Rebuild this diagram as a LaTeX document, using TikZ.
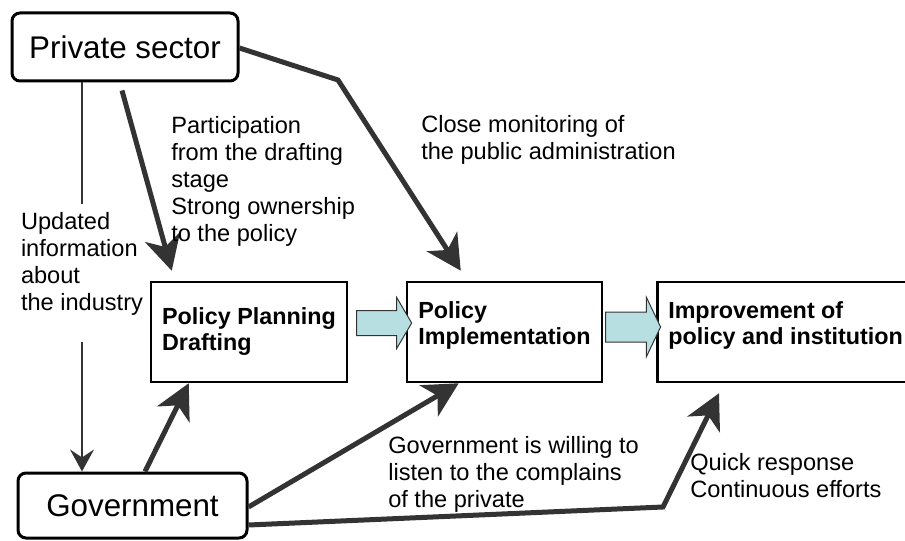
\documentclass[tikz,border=0pt]{standalone}
\usepackage{fontspec}
\setmainfont{Liberation Sans}
\usetikzlibrary{arrows.meta}
\usetikzlibrary{shapes.arrows}
\definecolor{arrowgrey}{HTML}{333333}
\definecolor{flowcyan}{HTML}{B7DFE2}
\newlength{\basisb}
\setlength{\basisb}{7.5pt}
\newcommand{\notefont}{\fontsize{17.7}{20.25}\selectfont}

\begin{document}
\begin{tikzpicture}[
    actor/.style={draw=black, line width=0.3\basisb, rounded corners=0.8\basisb, font=\fontsize{23.5}{28}\selectfont},
    stage/.style={draw=black, line width=0.25\basisb, minimum height=10\basisb, align=left, inner xsep=1.1\basisb, font=\fontsize{17.5}{19.5}\selectfont\bfseries},
    note/.style={anchor=north west, inner sep=0pt, align=left, font=\notefont},
    flow/.style={->, >={Stealth[length=26pt, width=27pt, inset=7.5pt]}, line width=0.5\basisb, color=arrowgrey},
    thinflow/.style={->, >={Stealth[length=16.5pt, width=18pt, inset=6pt]}, line width=0.2\basisb, color=arrowgrey},
    blockarrow/.style={single arrow, draw=arrowgrey, fill=flowcyan, line width=0.1\basisb, inner xsep=0pt, minimum height=5.5\basisb}
]
    \useasboundingbox (0,0) rectangle (90.5\basisb,54\basisb);
    \clip (0,0) rectangle (90.5\basisb,54\basisb);

    % actors
    \draw (12.5\basisb,49.3\basisb) 
		node[actor, minimum width=22.6\basisb, minimum height=6.8\basisb] 
			(Private) {Private sector};
    \draw (13.25\basisb,3.45\basisb) 
		node[actor, minimum width=22.9\basisb, minimum height=6.5\basisb] 
			(Government) {Government};

    % policy cycle
    \draw (24.9\basisb,20.8\basisb) 
		node[stage, minimum width=19.6\basisb] 
			(Planning) {Policy Planning\\Drafting};
    \draw (50.45\basisb,20.8\basisb) 
		node[stage, minimum width=19.5\basisb] 
			(Implementation) {Policy\\Implementation\\[-6pt]\mbox{}};
    \draw (65.6\basisb,20.8\basisb) 
		node[stage, anchor=west] 
			(Improvement) {Improvement of\\policy and institution\\[-6pt]\mbox{}};

    \draw (38.05\basisb,21.7\basisb) 
		node[blockarrow, inner ysep=1.2\basisb, single arrow head extend=1.3\basisb, single arrow tip angle=119] 
			(Flow1) {};
    \draw (62.95\basisb,21.3\basisb) 
		node[blockarrow, inner ysep=1.45\basisb, single arrow head extend=1.5\basisb, single arrow tip angle=129] 
			(Flow2) {};

    \coordinate (Bend1) at (33.8\basisb,46.0\basisb);
    \coordinate (Bend2) at (66.3\basisb,3.3\basisb);

	\draw[thinflow] ([xshift=-4.3\basisb]Private.south) -- node[pos=0.49, fill=white, inner xsep=0.2\basisb, inner ysep=0.8\basisb, align=left, font=\notefont, text=black] (Info) {Updated\\information\\about\\the industry\\[-2.75pt]\mbox{}} ([xshift=-5.05\basisb]Government.north);

	\draw[flow] ([xshift=-0.3\basisb, yshift=-0.8\basisb]Private.south) -- ([xshift=2.2\basisb, yshift=1.0\basisb]Planning.north west);
	\draw[flow] ([yshift=-0.1\basisb]Private.east) -- (Bend1) -- ([xshift=5.5\basisb, yshift=1.0\basisb]Implementation.north west);
	\draw[flow] ([xshift=1.25\basisb]Government.north) -- ([xshift=3.9\basisb]Planning.south west);
	\draw[flow] ([yshift=-0.15\basisb]Government.east) -- ([xshift=5.3\basisb]Implementation.south west);
	\draw[flow] ([yshift=-1.95\basisb]Government.east) -- (Bend2) -- ([xshift=6.3\basisb, yshift=-1.0\basisb]Improvement.south west);

    % notes
    \draw (17.1\basisb,42.4\basisb) node[note] (Participation) {Participation\\from the drafting\\stage\\Strong ownership\\to the policy};
    \draw (42.1\basisb,42.5\basisb) node[note] (Monitoring) {Close monitoring of\\the public administration};
    \draw (38.8\basisb,10.4\basisb) node[note] (Listening) {Government is willing to\\listen to the complains\\of the private};
    \draw (69.0\basisb,8.7\basisb) node[note] (Response) {Quick response\\Continuous efforts};
\end{tikzpicture}
\end{document}
